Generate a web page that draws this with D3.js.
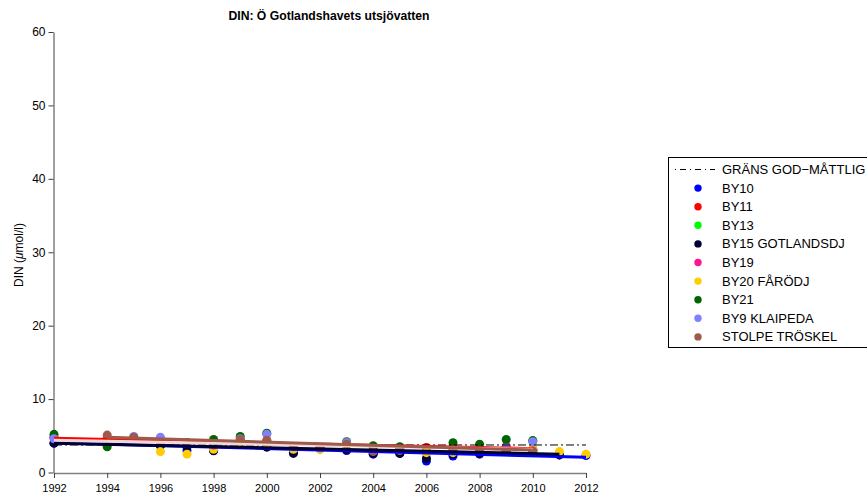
<!DOCTYPE html>
<html>
<head>
<meta charset="utf-8">
<script src="https://cdn.jsdelivr.net/npm/d3@7"></script>
<style>
  body { margin: 0; background: #fff; }
  svg { font-family: "Liberation Sans", Arial, sans-serif; }
</style>
</head>
<body>
<svg id="chart" width="867" height="500"></svg>
<script>
const years = d3.range(1992, 2013);
const xTicks = d3.range(1992, 2013, 2);
const yTicks = [0, 10, 20, 30, 40, 50, 60];

const stations = ["BY10", "BY11", "BY13", "BY15 GOTLANDSDJ", "BY19", "BY20 FÅRÖDJ", "BY21", "BY9 KLAIPEDA", "STOLPE TRÖSKEL"];
const colors = ["#0000ff", "#ff0000", "#00ff00", "#000033", "#ff1493", "#ffcc00", "#006400", "#8080ff", "#a05a4a"];

// one value per year 1992..2012, null = no sample
const by10   = [4.0, null, 4.2, null, 3.7, 3.0, 3.0, 3.9, 3.5, 2.7, 3.2, 3.0, 2.5, 2.6, 1.55, 2.25, 2.5, 2.9, 3.0, 2.4, 2.3];
const by11   = [4.8, null, 4.6, 4.7, 4.3, 4.0, 4.0, 4.4, 4.3, 3.4, 3.4, 3.8, 3.4, 3.3, 3.4, 3.4, 3.0, 3.3, 3.2, null, null];
const by13   = [null, null, null, null, null, null, null, null, null, null, null, null, null, null, null, 3.2, null, 3.5, 4.3, null, null];
const by15   = [4.0, null, 4.0, 4.6, 3.65, 3.5, 2.95, 4.0, 3.45, 2.6, 3.3, 3.1, 2.6, 2.6, 1.9, 2.5, 2.6, 3.0, 3.0, 2.4, null];
const by19   = [4.75, null, 4.7, null, null, null, null, null, null, null, null, null, null, null, null, 3.3, null, 3.6, null, null, null];
const by20   = [null, null, 3.85, null, 2.85, 2.5, 3.15, 3.85, 3.9, 3.15, 3.15, 3.4, null, null, 2.7, 2.7, null, null, 3.2, 2.85, 2.5];
const by21   = [5.2, null, 3.5, null, null, null, 4.5, 4.9, 5.35, null, null, 4.2, 3.65, 3.5, null, 4.05, 3.85, 4.5, 4.35, null, null];
const by9    = [4.6, null, null, 4.9, 4.8, 4.1, null, 4.6, 5.2, null, null, 4.1, null, 3.05, null, null, null, 3.3, 4.2, null, null];
const stolpe = [null, null, 5.1, 4.8, 4.1, 4.1, 3.75, 4.5, 4.4, 3.5, 3.4, 3.85, 2.85, 3.0, null, 3.05, 2.95, 2.85, 2.95, null, null];
const seriesValues = [by10, by11, by13, by15, by19, by20, by21, by9, stolpe];

// trend lines (start year, end year, start value, end value)
const trendColors = ["#0000ff", "#000033", "#ff0000", "#f0d8d8", "#a05a4a"];
const trendYears  = [[1992, 2012], [1992, 2011], [1992, 2010], [1992, 2010], [1994, 2010]];
const trendValues = [[4.05, 2.07], [4.0, 2.5], [4.65, 3.25], [4.4, 3.15], [4.8, 3.05]];

const limitLabel = "GRÄNS GOD\u2212MÅTTLIG";
const limitValue = 3.75;

const svg = d3.select("#chart");

const x = d3.scaleLinear().domain([1992, 2012]).range([54, 586]);
const y = d3.scaleLinear().domain([0, 60]).range([472.5, 32]);

// axes
const xAxis = svg.append("g")
    .attr("transform", "translate(0,473)")
    .call(d3.axisBottom(x).tickValues(xTicks).tickFormat(d3.format("d")).tickSize(5).tickSizeOuter(0));
const yAxis = svg.append("g")
    .attr("transform", "translate(53.5,0)")
    .call(d3.axisLeft(y).tickValues(yTicks).tickSize(5).tickSizeOuter(0));

[xAxis, yAxis].forEach(a => {
  a.select(".domain").attr("stroke", "#808080").attr("stroke-width", 1.5);
  a.selectAll(".tick line").attr("stroke", "#404040");
  a.selectAll(".tick text").attr("fill", "#000")
      .style("font-family", "'Liberation Sans', Arial, sans-serif");
});
xAxis.selectAll(".tick text").style("font-size", "11px").attr("dy", "1em");
yAxis.selectAll(".tick text").style("font-size", "12px");

// points, station by station
stations.forEach((s, i) => {
  const pts = years.map((yr, j) => ({yr: yr, v: seriesValues[i][j]})).filter(d => d.v != null);
  svg.append("g").selectAll("circle")
    .data(pts)
    .enter().append("circle")
      .attr("cx", d => x(d.yr))
      .attr("cy", d => y(d.v))
      .attr("r", 4.5)
      .attr("fill", colors[i]);
});

// limit line
svg.append("line")
    .attr("x1", x(1992)).attr("x2", x(2012))
    .attr("y1", y(limitValue)).attr("y2", y(limitValue))
    .attr("stroke", "#000").attr("stroke-width", 1)
    .attr("stroke-dasharray", "8,3,2,3");

// trend lines
trendColors.forEach((c, i) => {
  svg.append("line")
      .attr("x1", x(trendYears[i][0])).attr("x2", x(trendYears[i][1]))
      .attr("y1", y(trendValues[i][0])).attr("y2", y(trendValues[i][1]))
      .attr("stroke", c).attr("stroke-width", 3);
});

// title
svg.append("text")
    .attr("x", 329).attr("y", 20)
    .attr("text-anchor", "middle")
    .style("font-size", "12.2px").style("font-weight", "bold")
    .text("DIN: Ö Gotlandshavets utsjövatten");

// y label
const yl = svg.append("text")
    .attr("transform", "translate(23,255) rotate(-90)")
    .attr("text-anchor", "middle")
    .style("font-size", "12px");
yl.append("tspan").text("DIN (");
yl.append("tspan").style("font-style", "italic").text("\u03bc");
yl.append("tspan").text("mol/l)");

// legend
const lg = svg.append("g").attr("transform", "translate(668,157)");
lg.append("rect")
    .attr("x", 0.5).attr("y", 0.5).attr("width", 220).attr("height", 190)
    .attr("fill", "#fff").attr("stroke", "#000");

const rowY = i => 12.5 + i * 18.6;
lg.append("line")
    .attr("x1", 7).attr("x2", 47).attr("y1", rowY(0)).attr("y2", rowY(0))
    .attr("stroke", "#000").attr("stroke-dasharray", "1,4,6,4");
lg.append("text")
    .attr("x", 54).attr("y", rowY(0)).attr("dy", "0.35em")
    .style("font-size", "13px").text(limitLabel);

stations.forEach((s, i) => {
  lg.append("circle")
      .attr("cx", 30).attr("cy", rowY(i + 1)).attr("r", 3.7)
      .attr("fill", colors[i]);
  lg.append("text")
      .attr("x", 54).attr("y", rowY(i + 1)).attr("dy", "0.35em")
      .style("font-size", "13px").text(s);
});
</script>
</body>
</html>
